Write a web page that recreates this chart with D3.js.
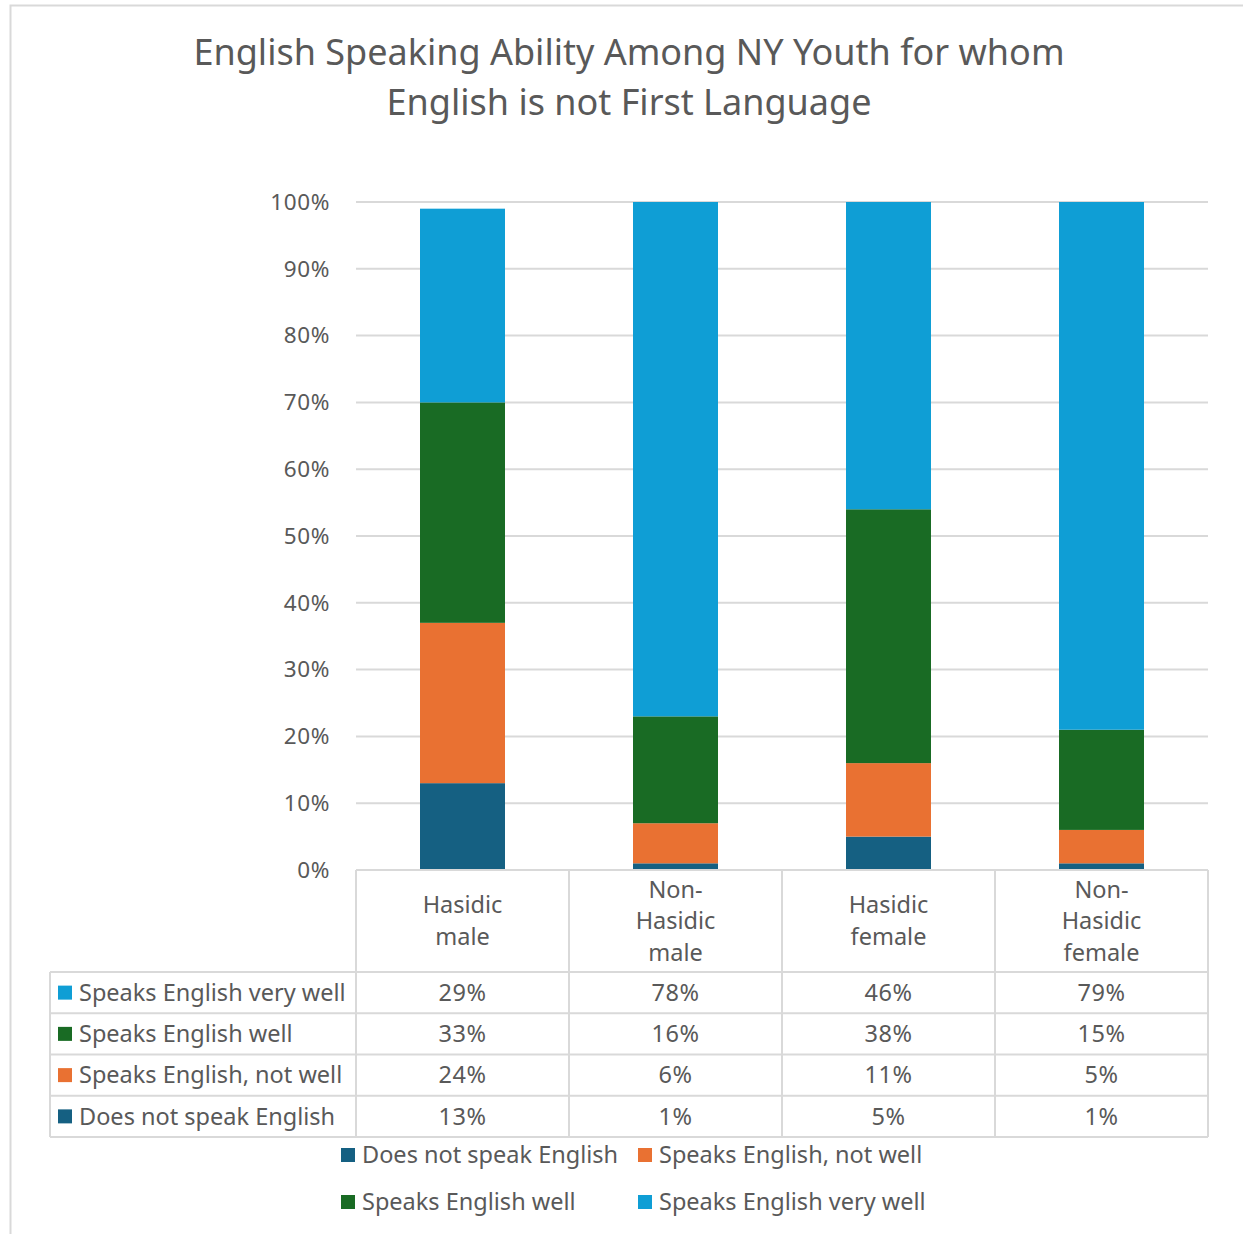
<!DOCTYPE html>
<html>
<head>
<meta charset="utf-8">
<script src="https://cdn.jsdelivr.net/npm/d3@7"></script>
<style>
  html, body { margin: 0; padding: 0; background: #fff; }
  svg { display: block; }
  text { font-family: "Noto Sans", "Open Sans", sans-serif; fill: #595959; }
</style>
</head>
<body>
<svg id="chart" width="1243" height="1234"></svg>
<script>
// Groups along the x axis (header labels are pre-split into lines)
const categories = ["Hasidic male", "Non-Hasidic male", "Hasidic female", "Non-Hasidic female"];
const categoryLines = [["Hasidic", "male"], ["Non-", "Hasidic", "male"], ["Hasidic", "female"], ["Non-", "Hasidic", "female"]];

// Stack order, bottom to top
const seriesNames = ["Does not speak English", "Speaks English, not well", "Speaks English well", "Speaks English very well"];
const seriesColors = ["#156082", "#E97132", "#196B24", "#0F9ED5"];

// Percent values per series, one per category
const notSpeak = [13, 1, 5, 1];
const notWell = [24, 6, 11, 5];
const well = [33, 16, 38, 15];
const veryWell = [29, 78, 46, 79];

const yTicks = [0, 10, 20, 30, 40, 50, 60, 70, 80, 90, 100];

const seriesValues = [notSpeak, notWell, well, veryWell];
const rows = categories.map((c, i) => {
  const r = { category: c };
  seriesNames.forEach((s, k) => { r[s] = seriesValues[k][i]; });
  return r;
});
const stacked = d3.stack().keys(seriesNames)(rows);

const svg = d3.select("#chart");

// Outer chart frame
svg.append("rect")
  .attr("x", 10.5).attr("y", 5.5).attr("width", 1240).attr("height", 1240)
  .attr("fill", "none").attr("stroke", "#D9D9D9").attr("stroke-width", 2);

// Title
const title = svg.append("text")
  .attr("x", 629).attr("text-anchor", "middle")
  .style("font-size", "36px");
title.append("tspan").attr("x", 629).attr("y", 65).text("English Speaking Ability Among NY Youth for whom");
title.append("tspan").attr("x", 629).attr("y", 115).text("English is not First Language");

// Plot area
const plotLeft = 356, plotRight = 1208, plotTop = 202, plotBottom = 870;
const x = d3.scaleBand().domain(categories).range([plotLeft, plotRight]).paddingInner(0).paddingOuter(0);
const y = d3.scaleLinear().domain([0, 100]).range([plotBottom, plotTop]).clamp(true);
const barWidth = 85;

// Gridlines
svg.append("g").selectAll("line").data(yTicks.filter(t => t > 0)).join("line")
  .attr("x1", plotLeft).attr("x2", plotRight)
  .attr("y1", d => y(d)).attr("y2", d => y(d))
  .attr("stroke", "#D9D9D9").attr("stroke-width", 2);

// Y axis labels
const yAxis = svg.append("g")
  .attr("transform", `translate(${plotLeft},0)`)
  .call(d3.axisLeft(y).tickValues(yTicks).tickFormat(d => d + "%").tickSize(0).tickPadding(26));
yAxis.select(".domain").remove();
yAxis.selectAll("text")
  .style("font-size", "22.5px")
  .style("letter-spacing", "0.6px")
  .style("font-family", "\"Noto Sans\", sans-serif")
  .attr("fill", "#595959");

// Stacked bars (values above the 100% axis maximum are clipped at the top)
svg.append("g").selectAll("g").data(stacked).join("g")
  .attr("fill", (d, i) => seriesColors[i])
  .selectAll("rect").data(d => d).join("rect")
  .attr("x", d => x(d.data.category) + (x.bandwidth() - barWidth) / 2)
  .attr("width", barWidth)
  .attr("y", d => y(d[1]))
  .attr("height", d => y(d[0]) - y(d[1]));

// Data table beneath the plot
const tableLeft = 50;
const headerBottom = 972;
const rowH = 41.25;
const tableRowOrder = [3, 2, 1, 0]; // very well, well, not well, not speak
const tableBottom = headerBottom + rowH * tableRowOrder.length;
const grid = svg.append("g").attr("stroke", "#D9D9D9").attr("stroke-width", 2);

// Header cell borders
grid.append("line").attr("x1", plotLeft).attr("x2", plotRight).attr("y1", plotBottom).attr("y2", plotBottom);
categories.forEach(c => {
  grid.append("line").attr("x1", x(c)).attr("x2", x(c)).attr("y1", plotBottom).attr("y2", tableBottom);
});
grid.append("line").attr("x1", plotRight).attr("x2", plotRight).attr("y1", plotBottom).attr("y2", tableBottom);
grid.append("line").attr("x1", tableLeft).attr("x2", tableLeft).attr("y1", headerBottom).attr("y2", tableBottom);
for (let r = 0; r <= tableRowOrder.length; r++) {
  const yy = headerBottom + r * rowH;
  grid.append("line").attr("x1", tableLeft).attr("x2", plotRight).attr("y1", yy).attr("y2", yy);
}

const cellFont = "23.5px";

// Header category labels
const lineGap = 31.5;
categoryLines.forEach((lines, i) => {
  const cx = x(categories[i]) + x.bandwidth() / 2;
  const midY = (plotBottom + headerBottom) / 2 + 0;
  const t = svg.append("text").attr("text-anchor", "middle").style("font-size", cellFont);
  lines.forEach((ln, j) => {
    t.append("tspan")
      .attr("x", cx)
      .attr("y", midY + (j - (lines.length - 1) / 2) * lineGap)
      .attr("dy", "0.35em")
      .text(ln);
  });
});

// Table rows: legend key + series name + values
tableRowOrder.forEach((k, r) => {
  const cy = headerBottom + r * rowH + rowH / 2;
  svg.append("rect").attr("x", 58).attr("y", cy - 7).attr("width", 14).attr("height", 14).attr("fill", seriesColors[k]);
  svg.append("text").attr("x", 79).attr("y", cy).attr("dy", "0.35em").style("font-size", cellFont).text(seriesNames[k]);
  seriesValues[k].forEach((v, i) => {
    svg.append("text")
      .attr("x", x(categories[i]) + x.bandwidth() / 2)
      .attr("y", cy).attr("dy", "0.35em")
      .attr("text-anchor", "middle").style("font-size", cellFont)
      .style("letter-spacing", "0.5px")
      .text(v + "%");
  });
});

// Legend below the table (two columns, two rows)
const legendItems = [0, 1, 2, 3];
const legendPos = [[341, 1155], [638, 1155], [341, 1202], [638, 1202]];
legendItems.forEach((k, i) => {
  const [lx, ly] = legendPos[i];
  svg.append("rect").attr("x", lx).attr("y", ly - 7).attr("width", 14).attr("height", 14).attr("fill", seriesColors[k]);
  svg.append("text").attr("x", lx + 21).attr("y", ly).attr("dy", "0.35em").style("font-size", cellFont).text(seriesNames[k]);
});
</script>
</body>
</html>
